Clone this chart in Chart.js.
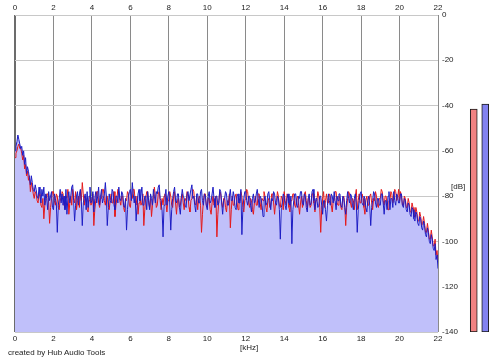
<!DOCTYPE html>
<html>
<head>
<meta charset="utf-8">
<script src="https://cdn.jsdelivr.net/npm/chart.js"></script>
<style>
  body { margin: 0; background: #fff; }
  #wrap { position: relative; width: 500px; height: 362px; background: #fff; font-family: "Liberation Sans", Arial, sans-serif; }
  #spectrum { position: absolute; left: 0; top: 0; }
  #meters { position: absolute; left: 468px; top: 0; }
  .lbl { position: absolute; font-size: 8px; color: #222; white-space: nowrap; }
</style>
</head>
<body>
<div id="wrap">
  <canvas id="spectrum" width="500" height="362"></canvas>
  <canvas id="meters" width="23" height="362"></canvas>
  <div class="lbl" style="left:240px; top:343px;">[kHz]</div>
  <div class="lbl" style="left:451px; top:182px;">[dB]</div>
  <div class="lbl" style="left:8px; top:348px;">created by Hub Audio Tools</div>
</div>
<script>
// spectrum bins, 0.05 kHz apart (0 .. 22 kHz)
const binCount = 441;
const freqKHz = [];
for (let i = 0; i < binCount; i++) freqKHz.push(i * 5 / 100);

// levels, dB; one row per kHz
const blueLevels = [
  -60, -58, -56, -53, -55, -57, -59, -58, -62, -60, -66, -63, -70, -67, -69, -72, -75, -71, -74, -77,
  -78, -75, -77, -80, -81, -76, -79, -83, -77, -80, -76, -84, -79, -81, -86, -78, -82, -80, -78, -85,
  -86, -79, -81, -83, -96, -84, -81, -77, -83, -79, -84, -80, -86, -77, -88, -81, -78, -83, -80, -76,
  -75, -82, -91, -84, -80, -78, -84, -79, -77, -82, -93, -83, -81, -79, -86, -78, -85, -80, -76, -83,
  -82, -78, -87, -81, -78, -83, -80, -76, -84, -80, -77, -83, -81, -79, -74, -80, -93, -85, -79, -82,
  -83, -77, -78, -84, -86, -80, -80, -83, -76, -81, -82, -78, -79, -84, -85, -81, -95, -86, -80, -78,
  -77, -82, -74, -79, -83, -80, -91, -84, -79, -77, -82, -79, -76, -84, -84, -80, -80, -86, -78, -82,
  -86, -79, -81, -84, -77, -80, -83, -78, -79, -76, -75, -81, -82, -86, -98, -84, -80, -77, -84, -80,
  -78, -83, -95, -86, -81, -78, -76, -82, -83, -79, -79, -85, -88, -81, -77, -80, -81, -84, -85, -79,
  -78, -82, -82, -77, -75, -81, -80, -84, -87, -79, -79, -83, -83, -78, -77, -82, -84, -79, -80, -84,
  -86, -80, -78, -83, -82, -79, -76, -81, -85, -80, -80, -84, -83, -77, -78, -83, -88, -82, -81, -78,
  -79, -84, -84, -80, -77, -82, -82, -78, -80, -85, -86, -80, -79, -83, -83, -77, -97, -86, -81, -78,
  -78, -82, -84, -80, -80, -84, -87, -81, -79, -83, -82, -79, -77, -81, -85, -80, -81, -84, -89, -82,
  -80, -84, -83, -79, -78, -82, -86, -81, -82, -78, -79, -83, -84, -80, -81, -86, -99, -85, -83, -79,
  -80, -84, -86, -81, -79, -83, -84, -80, -101, -86, -82, -79, -79, -84, -85, -80, -81, -78, -78, -83,
  -84, -79, -80, -85, -87, -81, -79, -84, -83, -78, -77, -82, -86, -81, -81, -85, -84, -80, -80, -84,
  -88, -82, -82, -86, -91, -84, -79, -82, -84, -79, -80, -83, -78, -82, -86, -80, -82, -79, -79, -84,
  -85, -80, -81, -85, -88, -82, -78, -81, -83, -79, -80, -84, -86, -81, -79, -83, -96, -86, -82, -79,
  -78, -83, -84, -80, -81, -85, -87, -82, -80, -84, -93, -85, -82, -78, -79, -83, -85, -81, -81, -84,
  -84, -79, -79, -83, -88, -82, -82, -86, -80, -78, -86, -81, -81, -85, -78, -82, -84, -79, -80, -83,
  -83, -79, -79, -84, -85, -81, -82, -86, -87, -83, -84, -88, -89, -85, -86, -90, -91, -87, -88, -92,
  -93, -89, -90, -94, -95, -91, -93, -97, -98, -94, -96, -100, -101, -97, -99, -103, -104, -101, -108, -106,
  -112
];
const redLevels = [
  -63, -61, -60, -58, -57, -59, -59, -61, -64, -62, -68, -66, -71, -69, -73, -71, -78, -74, -76, -79,
  -81, -78, -79, -82, -83, -79, -80, -84, -85, -81, -90, -84, -82, -79, -79, -83, -92, -85, -81, -78,
  -78, -82, -84, -79, -80, -85, -86, -81, -82, -78, -79, -84, -85, -80, -81, -77, -88, -83, -80, -84,
  -77, -81, -83, -78, -86, -82, -80, -85, -78, -82, -74, -79, -84, -80, -81, -86, -87, -82, -80, -84,
  -83, -79, -93, -86, -82, -78, -78, -83, -85, -81, -81, -77, -77, -82, -84, -80, -80, -85, -86, -82,
  -79, -83, -83, -78, -89, -84, -81, -77, -78, -82, -84, -80, -80, -85, -87, -82, -82, -78, -79, -84,
  -85, -80, -81, -77, -77, -82, -84, -80, -88, -83, -80, -84, -83, -79, -93, -86, -81, -78, -78, -83,
  -85, -81, -89, -84, -80, -76, -80, -85, -84, -79, -78, -82, -86, -81, -84, -80, -79, -83, -87, -82,
  -82, -78, -80, -84, -85, -80, -78, -83, -88, -82, -81, -85, -84, -80, -79, -83, -86, -81, -82, -78,
  -80, -85, -87, -82, -81, -77, -78, -83, -84, -80, -86, -81, -80, -84, -96, -88, -82, -79, -79, -84,
  -85, -81, -81, -86, -88, -83, -80, -84, -84, -80, -98, -88, -82, -78, -79, -83, -85, -81, -81, -85,
  -87, -82, -83, -79, -94, -86, -80, -84, -84, -80, -79, -83, -86, -81, -82, -78, -80, -85, -87, -82,
  -81, -77, -78, -83, -85, -81, -82, -86, -88, -83, -80, -84, -84, -79, -79, -83, -86, -81, -82, -78,
  -80, -85, -87, -82, -81, -85, -84, -79, -79, -83, -88, -83, -82, -78, -80, -84, -85, -80, -81, -86,
  -78, -82, -84, -79, -80, -85, -87, -82, -82, -79, -79, -84, -85, -81, -80, -84, -88, -83, -80, -85,
  -83, -79, -78, -82, -86, -81, -81, -85, -84, -79, -79, -83, -87, -82, -82, -78, -80, -85, -96, -86,
  -81, -78, -85, -82, -79, -83, -83, -79, -80, -84, -87, -82, -82, -78, -78, -83, -84, -80, -81, -85,
  -86, -81, -80, -84, -93, -85, -81, -78, -79, -83, -85, -81, -82, -86, -80, -77, -86, -82, -79, -83,
  -83, -79, -81, -85, -88, -82, -80, -84, -84, -80, -79, -83, -86, -81, -82, -78, -80, -84, -85, -81,
  -81, -77, -78, -82, -84, -80, -80, -84, -86, -82, -82, -78, -79, -83, -81, -77, -78, -82, -81, -77,
  -82, -78, -80, -84, -84, -80, -81, -85, -85, -81, -83, -87, -87, -83, -85, -89, -89, -85, -87, -91,
  -91, -87, -89, -93, -92, -89, -92, -96, -96, -92, -95, -99, -99, -95, -98, -102, -102, -99, -106, -104,
  -109
];

// level meters (left = red, right = blue)
const meterLabels = ['L', 'R'];
const meterLevels = [-41.5, -39.3];
const meterFloor = -140;

const xTicks = [0, 2, 4, 6, 8, 10, 12, 14, 16, 18, 20, 22];
const dbMin = -140, dbMax = 0;

const tickFont = { family: '"Liberation Sans", Arial, sans-serif', size: 8 };
const toPoints = arr => arr.map((v, i) => ({ x: freqKHz[i], y: v }));

new Chart(document.getElementById('spectrum'), {
  type: 'line',
  data: {
    datasets: [
      {
        data: toPoints(blueLevels),
        borderWidth: 0,
        pointRadius: 0,
        fill: 'start',
        backgroundColor: '#c0c0fa',
        order: 3
      },
      {
        data: toPoints(redLevels),
        borderColor: '#e41a1c',
        borderWidth: 1,
        pointRadius: 0,
        fill: false,
        order: 2
      },
      {
        data: toPoints(blueLevels),
        borderColor: '#1c1cc4',
        borderWidth: 1,
        pointRadius: 0,
        fill: false,
        order: 1
      }
    ]
  },
  options: {
    responsive: false,
    animation: false,
    events: [],
    layout: { padding: { left: 15, right: 0, top: 0, bottom: 0 } },
    plugins: { legend: { display: false }, tooltip: { enabled: false } },
    scales: {
      x: {
        type: 'linear',
        position: 'bottom',
        min: 0, max: 22,
        afterBuildTicks: s => { s.ticks = xTicks.map(v => ({ value: v })); },
        afterFit: s => { s.height = 30; },
        ticks: { font: tickFont, color: '#222', padding: 2, maxRotation: 0, autoSkip: false },
        grid: {
          drawTicks: false,
          color: ctx => ctx.tick && ctx.tick.value === 0 ? '#6c6c6c' : '#8a8a8a',
          lineWidth: ctx => ctx.tick && ctx.tick.value === 0 ? 2 : 1
        },
        border: { display: false }
      },
      x2: {
        type: 'linear',
        position: 'top',
        min: 0, max: 22,
        afterBuildTicks: s => { s.ticks = xTicks.map(v => ({ value: v })); },
        afterFit: s => { s.height = 15; },
        ticks: { font: tickFont, color: '#222', padding: 2, maxRotation: 0, autoSkip: false },
        grid: { display: false, drawTicks: false },
        border: { display: false }
      },
      y: {
        type: 'linear',
        position: 'right',
        min: dbMin, max: dbMax,
        afterFit: s => { s.width = 62; },
        ticks: { stepSize: 20, font: tickFont, color: '#222', padding: 4 },
        grid: { drawTicks: false, color: '#c8c8c8' },
        border: { display: false }
      }
    }
  }
});

new Chart(document.getElementById('meters'), {
  type: 'bar',
  data: {
    labels: meterLabels,
    datasets: [{
      data: meterLevels.map(v => [meterFloor, v]),
      backgroundColor: ['#f08282', '#8282f0'],
      borderColor: '#1a1a1a',
      borderWidth: 1,
      borderSkipped: false,
      barThickness: 7
    }]
  },
  options: {
    responsive: false,
    animation: false,
    events: [],
    layout: { padding: { left: 0, right: 0, top: 15, bottom: 30 } },
    plugins: { legend: { display: false }, tooltip: { enabled: false } },
    scales: {
      x: { display: false },
      y: { display: false, min: dbMin, max: dbMax }
    }
  }
});
</script>
</body>
</html>
